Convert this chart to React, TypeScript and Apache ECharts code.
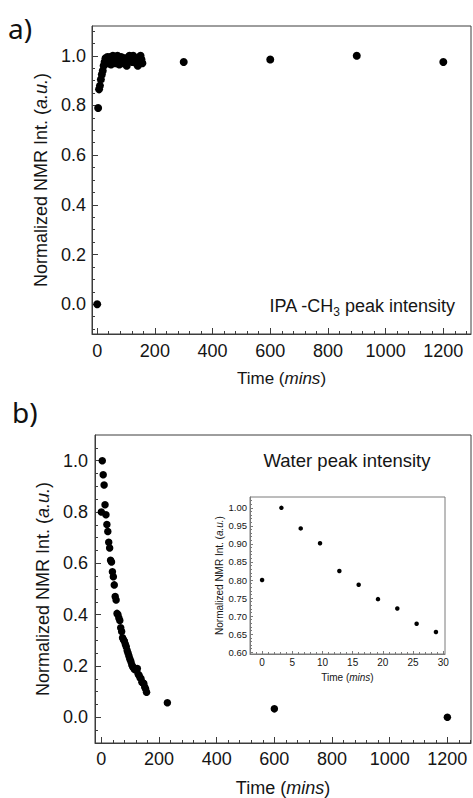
import React, { useEffect, useRef } from "react";
import * as echarts from "echarts";

// ---------- data ----------
// a) IPA -CH3 peak intensity
const ipaTime = [
  0, 3.2, 6.4, 9.6, 12.8, 16, 19.2, 22.4, 25.6, 28.8,
  32, 35.2, 38.4, 41.6, 44.8, 48, 51.2, 54.4, 57.6, 60.8,
  64, 67.2, 70.4, 73.6, 76.8, 80, 83.2, 86.4, 89.6, 92.8,
  96, 99.2, 102.4, 105.6, 108.8, 112, 115.2, 118.4, 121.6, 124.8,
  128, 131.2, 134.4, 137.6, 140.8, 144, 147.2, 150.4, 153.6, 156.8,
  300, 600, 900, 1200,
];
const ipaValue = [
  0.0, 0.79, 0.865, 0.88, 0.905, 0.925, 0.94, 0.96, 0.975, 0.99,
  0.985, 0.995, 0.97, 0.99, 0.995, 0.965, 0.985, 1.0, 0.98, 0.995,
  0.97, 0.99, 1.0, 0.985, 0.965, 0.99, 0.995, 0.98, 0.99, 0.97,
  0.99, 0.975, 0.96, 0.98, 0.995, 1.0, 0.985, 0.99, 0.975, 1.0,
  0.99, 0.985, 0.97, 0.99, 0.96, 0.975, 0.995, 1.0, 0.985, 0.97,
  0.975, 0.985, 1.0, 0.975,
];

// b) Water peak intensity
const waterTime = [
  0, 3.2, 6.4, 9.6, 12.8, 16, 19.2, 22.4, 25.6, 28.8,
  32, 35.2, 38.4, 41.6, 44.8, 48, 51.2, 54.4, 57.6, 60.8,
  64, 67.2, 70.4, 73.6, 76.8, 80, 83.2, 86.4, 89.6, 92.8,
  96, 99.2, 102.4, 105.6, 108.8, 112, 115.2, 118.4, 121.6, 124.8,
  128, 131.2, 134.4, 137.6, 140.8, 144, 147.2, 150.4, 153.6, 156.8,
  229, 600, 1200,
];
const waterValue = [
  0.8, 1.0, 0.945, 0.905, 0.828, 0.789, 0.751, 0.724, 0.682, 0.66,
  0.612, 0.605, 0.567, 0.548, 0.516, 0.471, 0.457, 0.405, 0.4, 0.387,
  0.377, 0.349, 0.334, 0.31, 0.302, 0.296, 0.285, 0.275, 0.26, 0.25,
  0.238, 0.226, 0.218, 0.205, 0.197, 0.192, 0.186, 0.19, 0.183, 0.19,
  0.168, 0.163, 0.154, 0.15, 0.137, 0.135, 0.132, 0.118, 0.11, 0.098,
  0.057, 0.033, 0.0,
];

// inset: first 30 minutes of the water data
const insetTime = [0, 3.2, 6.4, 9.6, 12.8, 16, 19.2, 22.4, 25.6, 28.8];
const insetValue = [0.8, 1.0, 0.943, 0.902, 0.825, 0.787, 0.747, 0.721, 0.679, 0.656];

// tick labels
const mainXTicks = [0, 200, 400, 600, 800, 1000, 1200];
const mainYTicks = [0, 0.2, 0.4, 0.6, 0.8, 1.0];
const insetXTicks = [0, 5, 10, 15, 20, 25, 30];
const insetYTicks = [0.6, 0.65, 0.7, 0.75, 0.8, 0.85, 0.9, 0.95, 1.0];

function steps(a: number, b: number, s: number) {
  const out: number[] = [];
  const n = Math.round((b - a) / s);
  for (let i = 0; i <= n; i++) out.push(Math.round((a + i * s) * 1e6) / 1e6);
  return out;
}

const FONT = "'Liberation Sans', Arial, sans-serif";
const TXT = "#151515";
const LINE = "#3c3c3c";
const INSET_LINE = "#7a7a7a";

function majorAxis(o: any) {
  return {
    type: "value",
    gridIndex: o.grid,
    position: o.position,
    min: o.min,
    max: o.max,
    axisLine: { show: true, onZero: false, lineStyle: { color: o.lineColor, width: 1 } },
    axisTick: {
      show: true,
      inside: true,
      length: o.tickLen,
      customValues: o.ticks,
      lineStyle: { color: o.lineColor, width: 1 },
    },
    axisLabel: {
      show: true,
      customValues: o.ticks,
      formatter: o.formatter,
      fontSize: o.fontSize,
      fontFamily: FONT,
      color: TXT,
      margin: o.margin,
    },
    splitLine: { show: false },
    name: o.name,
    nameLocation: "middle",
    nameGap: o.nameGap,
    nameTextStyle: {
      fontSize: o.nameSize,
      fontFamily: FONT,
      color: TXT,
      rich: { it: { fontStyle: "italic", fontSize: o.nameSize, fontFamily: FONT, color: TXT } },
    },
  };
}

function minorAxis(o: any) {
  return {
    type: "value",
    gridIndex: o.grid,
    position: o.position,
    min: o.min,
    max: o.max,
    axisLine: { show: false, onZero: false },
    axisTick: {
      show: true,
      inside: true,
      length: o.tickLen,
      customValues: o.ticks,
      lineStyle: { color: o.lineColor, width: 1 },
    },
    axisLabel: { show: false },
    splitLine: { show: false },
  };
}

const f1 = (v: number) => v.toFixed(1);
const f0 = (v: number) => String(Math.round(v));
const f2 = (v: number) => v.toFixed(2);

const TOP = { xMin: -18, xMax: 1296, yMin: -0.12, yMax: 1.12 };
const BOT = { xMin: -22, xMax: 1282, yMin: -0.1, yMax: 1.1 };
const INS = { xMin: -2, xMax: 30.3, yMin: 0.595, yMax: 1.03 };

const xAxis = [
  majorAxis({ grid: 0, position: "bottom", min: TOP.xMin, max: TOP.xMax, ticks: mainXTicks, formatter: f0, fontSize: 18, margin: 8, tickLen: 6, lineColor: LINE, name: "Time ({it|mins})", nameGap: 36, nameSize: 17 }),
  minorAxis({ grid: 0, position: "bottom", min: TOP.xMin, max: TOP.xMax, ticks: steps(0, 1280, 40), tickLen: 3, lineColor: LINE }),
  majorAxis({ grid: 1, position: "bottom", min: BOT.xMin, max: BOT.xMax, ticks: mainXTicks, formatter: f0, fontSize: 18, margin: 7, tickLen: 6, lineColor: LINE, name: "Time ({it|mins})", nameGap: 36, nameSize: 18 }),
  minorAxis({ grid: 1, position: "bottom", min: BOT.xMin, max: BOT.xMax, ticks: steps(0, 1280, 40), tickLen: 3, lineColor: LINE }),
  majorAxis({ grid: 2, position: "bottom", min: INS.xMin, max: INS.xMax, ticks: insetXTicks, formatter: f0, fontSize: 10, margin: 3, tickLen: 3, lineColor: INSET_LINE, name: "Time ({it|mins})", nameGap: 18, nameSize: 10 }),
  minorAxis({ grid: 2, position: "bottom", min: INS.xMin, max: INS.xMax, ticks: steps(-1, 30, 1), tickLen: 2, lineColor: INSET_LINE }),
];

const yAxis = [
  majorAxis({ grid: 0, position: "left", min: TOP.yMin, max: TOP.yMax, ticks: mainYTicks, formatter: f1, fontSize: 18, margin: 6, tickLen: 6, lineColor: LINE, name: "Normalized NMR Int. ({it|a.u.})", nameGap: 37, nameSize: 18 }),
  minorAxis({ grid: 0, position: "left", min: TOP.yMin, max: TOP.yMax, ticks: steps(-0.1, 1.1, 0.05), tickLen: 3, lineColor: LINE }),
  majorAxis({ grid: 1, position: "left", min: BOT.yMin, max: BOT.yMax, ticks: mainYTicks, formatter: f1, fontSize: 18, margin: 7, tickLen: 6, lineColor: LINE, name: "Normalized NMR Int. ({it|a.u.})", nameGap: 38, nameSize: 18 }),
  minorAxis({ grid: 1, position: "left", min: BOT.yMin, max: BOT.yMax, ticks: steps(-0.05, 1.05, 0.05), tickLen: 3, lineColor: LINE }),
  majorAxis({ grid: 2, position: "left", min: INS.yMin, max: INS.yMax, ticks: insetYTicks, formatter: f2, fontSize: 9.5, margin: 3, tickLen: 3, lineColor: INSET_LINE, name: "Normalized NMR Int. ({it|a.u.})", nameGap: 26, nameSize: 10 }),
  minorAxis({ grid: 2, position: "left", min: INS.yMin, max: INS.yMax, ticks: steps(0.6, 1.02, 0.01), tickLen: 2, lineColor: INSET_LINE }),
];

function pairs(xs: number[], ys: number[]) {
  return xs.map((x, i) => [x, ys[i]]);
}

const option: any = {
  animation: false,
  backgroundColor: "#ffffff",
  grid: [
    { left: 92, top: 26, width: 379, height: 308, show: true, borderColor: LINE, borderWidth: 1, backgroundColor: "transparent", containLabel: false, outerBoundsMode: "none" },
    { left: 95, top: 435, width: 376, height: 308, show: true, borderColor: LINE, borderWidth: 1, backgroundColor: "transparent", containLabel: false, outerBoundsMode: "none" },
    { left: 250, top: 497, width: 195, height: 157, show: true, borderColor: INSET_LINE, borderWidth: 1, backgroundColor: "#ffffff", containLabel: false, outerBoundsMode: "none" },
  ],
  xAxis,
  yAxis,
  series: [
    { type: "scatter", xAxisIndex: 0, yAxisIndex: 0, data: pairs(ipaTime, ipaValue), symbol: "circle", symbolSize: 8, itemStyle: { color: "#000", opacity: 1 } },
    { type: "scatter", xAxisIndex: 2, yAxisIndex: 2, data: pairs(waterTime, waterValue), symbol: "circle", symbolSize: 7.5, itemStyle: { color: "#000", opacity: 1 } },
    { type: "scatter", xAxisIndex: 4, yAxisIndex: 4, data: pairs(insetTime, insetValue), symbol: "circle", symbolSize: 4.5, itemStyle: { color: "#000", opacity: 1 }, z: 5 },
  ],
  graphic: [
    { type: "text", x: 8, y: 28, style: { text: "a)", fontSize: 28, fontFamily: "'Noto Sans', 'Open Sans', sans-serif", fill: "#111", align: "left", verticalAlign: "middle" } },
    { type: "text", x: 12, y: 412, style: { text: "b)", fontSize: 28, fontFamily: "'Noto Sans', 'Open Sans', sans-serif", fill: "#111", align: "left", verticalAlign: "middle" } },
    {
      type: "text", x: 455, y: 306,
      style: {
        text: "IPA -CH{s|3} peak intensity", fontSize: 18, fontFamily: FONT, fill: TXT, align: "right", verticalAlign: "middle",
        rich: { s: { fontSize: 12, fontFamily: FONT, fill: TXT, padding: [11, 0, 0, 0] } },
      },
    },
    { type: "text", x: 347, y: 460, style: { text: "Water peak intensity", fontSize: 18.5, fontFamily: FONT, fill: TXT, align: "center", verticalAlign: "middle" } },
  ],
};

export default function App() {
  const ref = useRef<HTMLDivElement>(null);
  useEffect(() => {
    const chart = echarts.init(ref.current!, null, { renderer: "svg" });
    chart.setOption(option);
    return () => chart.dispose();
  }, []);
  return (
    <div
      ref={ref}
      style={{ position: "absolute", left: 0, top: 0, width: 473, height: 798, background: "#fff" }}
    />
  );
}
